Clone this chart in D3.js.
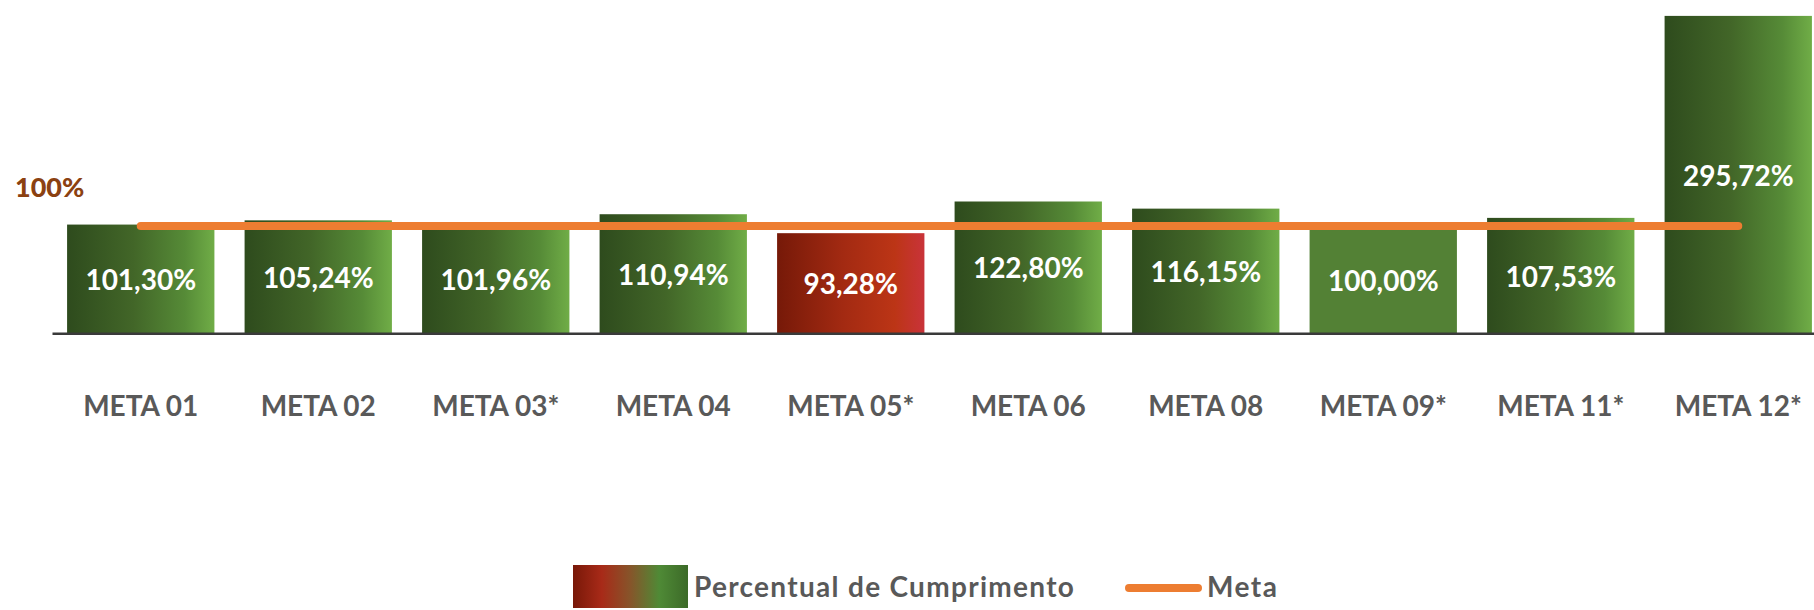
<!DOCTYPE html>
<html>
<head>
<meta charset="utf-8">
<script src="https://cdn.jsdelivr.net/npm/d3@7"></script>
<style>
  html, body { margin: 0; padding: 0; background: #ffffff; }
  svg { display: block; }
  text { font-family: Lato, "Open Sans", sans-serif; font-weight: 700; }
</style>
</head>
<body>
<svg id="chart" width="1814" height="610"></svg>
<script>
// ---- data ----
const categories = ["META 01", "META 02", "META 03*", "META 04", "META 05*", "META 06", "META 08", "META 09*", "META 11*", "META 12*"];
const values = [101.30, 105.24, 101.96, 110.94, 93.28, 122.80, 116.15, 100.00, 107.53, 295.72];
const metaValue = 100;
const metaLabel = "100%";
const legendLabels = ["Percentual de Cumprimento", "Meta"];

// ---- setup ----
const svg = d3.select("#chart");
const baseY = 333.3;

const x = d3.scaleBand()
  .domain(categories)
  .range([52, 1827])
  .paddingInner(0.17)
  .paddingOuter(0.085);

const y = d3.scaleLinear()
  .domain([0, 300])
  .range([baseY, 11.3]);

const fmt = v => d3.format(".2f")(v).replace(".", ",") + "%";

// ---- gradients ----
const defs = svg.append("defs");
function grad(id, stops) {
  const g = defs.append("linearGradient").attr("id", id)
    .attr("x1", "0%").attr("y1", "0%").attr("x2", "100%").attr("y2", "0%");
  stops.forEach(s => g.append("stop").attr("offset", s[0]).attr("stop-color", s[1]));
}
grad("gGreen", [[0, "#2E4B1D"], [0.45, "#426628"], [0.8, "#568B37"], [1, "#70AD47"]]);
grad("gRed", [[0, "#761908"], [0.45, "#A32A12"], [0.8, "#BC3516"], [1, "#C9333A"]]);
grad("gLegend", [[0, "#781808"], [0.25, "#A82A18"], [0.5, "#86552A"], [0.75, "#4F8A36"], [1, "#3C6A28"]]);

function fillFor(v) {
  if (v < metaValue) return "url(#gRed)";
  if (v === metaValue) return "#538135";
  return "url(#gGreen)";
}

// ---- bars ----
const data = categories.map((c, i) => ({ c, v: values[i] }));

svg.append("g").selectAll("rect")
  .data(data)
  .join("rect")
  .attr("x", d => x(d.c))
  .attr("y", d => y(d.v))
  .attr("width", x.bandwidth())
  .attr("height", d => baseY - y(d.v))
  .attr("fill", d => fillFor(d.v));

// ---- x axis ----
const axis = svg.append("g")
  .attr("transform", `translate(0,${baseY})`)
  .call(d3.axisBottom(x).tickSize(0).tickSizeOuter(0));
axis.select(".domain").attr("stroke", "#3a3a3a").attr("stroke-width", 2.5);
axis.selectAll(".tick text")
  .attr("y", 416 - baseY)
  .attr("dy", 0)
  .attr("fill", "#595959")
  .style("font-family", "Lato, sans-serif")
  .style("font-weight", 700)
  .style("font-size", "28px");

// ---- meta line ----
const first = categories[0], last = categories[categories.length - 1];
svg.append("line")
  .attr("x1", x(first) + x.bandwidth() / 2)
  .attr("x2", x(last) + x.bandwidth() / 2)
  .attr("y1", y(metaValue))
  .attr("y2", y(metaValue))
  .attr("stroke", "#ED7D31")
  .attr("stroke-width", 8)
  .attr("stroke-linecap", "round");

// ---- value labels ----
svg.append("g").selectAll("text")
  .data(data)
  .join("text")
  .attr("x", d => x(d.c) + x.bandwidth() / 2)
  .attr("y", d => (y(d.v) + baseY) / 2 + 11)
  .attr("text-anchor", "middle")
  .attr("fill", "#ffffff")
  .style("font-size", "28px")
  .text(d => fmt(d.v));

// ---- 100% label ----
svg.append("text")
  .attr("x", 15)
  .attr("y", 197)
  .attr("fill", "#8B4111")
  .style("font-size", "27px")
  .style("font-weight", 900)
  .text(metaLabel);

// ---- legend ----
const lg = svg.append("g");
lg.append("rect")
  .attr("x", 573).attr("y", 565).attr("width", 115).attr("height", 43)
  .attr("fill", "url(#gLegend)");
lg.append("text")
  .attr("x", 694).attr("y", 597)
  .attr("fill", "#595959")
  .style("font-size", "28px")
  .attr("letter-spacing", "1.3px")
  .text(legendLabels[0]);
lg.append("line")
  .attr("x1", 1129).attr("x2", 1198)
  .attr("y1", 588).attr("y2", 588)
  .attr("stroke", "#ED7D31")
  .attr("stroke-width", 8)
  .attr("stroke-linecap", "round");
lg.append("text")
  .attr("x", 1207).attr("y", 597)
  .attr("fill", "#595959")
  .style("font-size", "28px")
  .attr("letter-spacing", "1.5px")
  .text(legendLabels[1]);
</script>
</body>
</html>
